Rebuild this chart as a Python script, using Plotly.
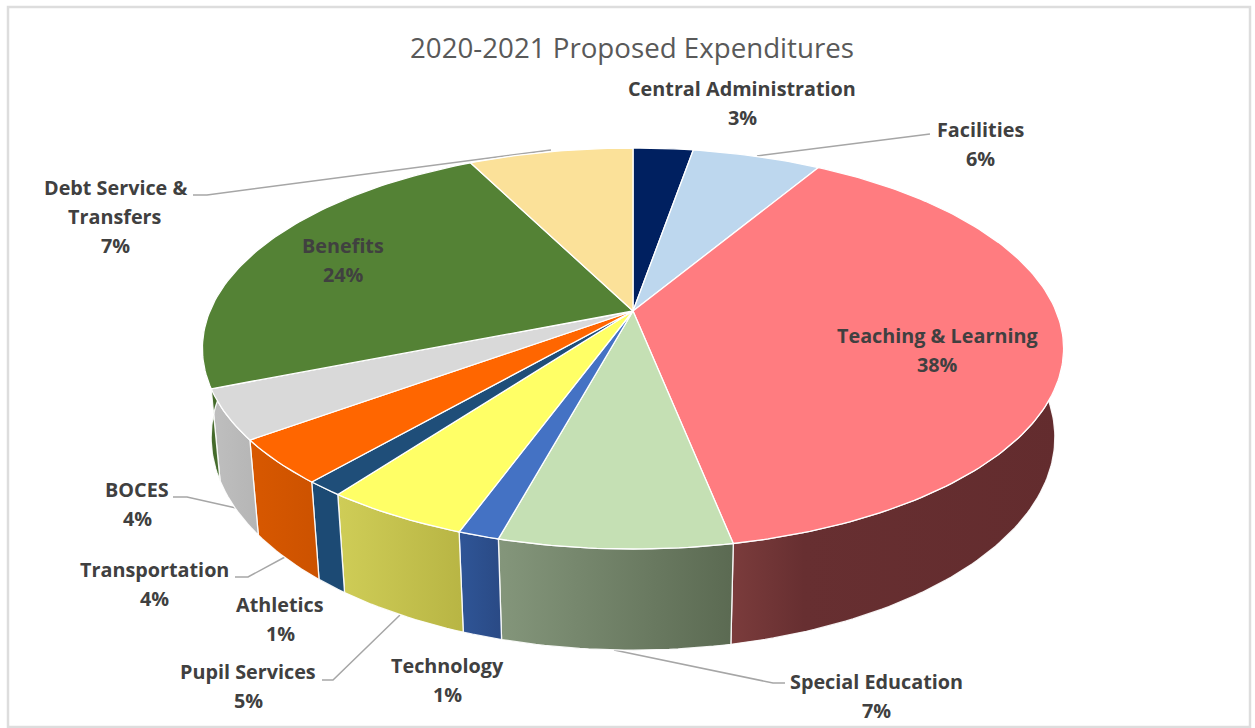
import numpy as np
import plotly.graph_objects as go

# ---- data -----
categories = ["Central Administration", "Facilities", "Teaching & Learning", "Special Education",
              "Technology", "Pupil Services", "Athletics", "Transportation", "BOCES", "Benefits",
              "Debt Service & Transfers"]
shares = [2.7, 5.8, 38.4, 7.3, 1.3, 4.6, 1.2, 3.6, 4.0, 23.7, 7.4]
top_colors = ["#002060", "#BDD7EE", "#FF7C80", "#C5E0B4", "#4472C4", "#FFFF66", "#1F4E79", "#FF6600",
              "#D9D9D9", "#548235", "#FBE199"]
wall_scales = [None, None,
               [[0, "#7B3C3C"], [0.22, "#672F31"], [1, "#632C2E"]],
               [[0, "#84967B"], [1, "#5B6A52"]],
               [[0, "#2F5597"], [1, "#2A4A85"]],
               [[0, "#CFCD57"], [1, "#B8B544"]],
               [[0, "#1C4A74"], [1, "#1C4A74"]],
               [[0, "#D85800"], [1, "#CC5200"]],
               [[0, "#BFBFBF"], [1, "#B5B5B5"]],
               [[0, "#446A2B"], [1, "#446A2B"]],
               None]
title_text = "2020-2021 Proposed Expenditures"
label_lines = [["Central Administration", "3%"], ["Facilities", "6%"], ["Teaching & Learning", "38%"],
               ["Special Education", "7%"], ["Technology", "1%"], ["Pupil Services", "5%"],
               ["Athletics", "1%"], ["Transportation", "4%"], ["BOCES", "4%"], ["Benefits", "24%"],
               ["Debt Service &", "Transfers", "7%"]]
label_anchor = [(742, 88), (980, 129), (937, 335), (876, 681), (447, 665), (248, 671), (280, 604),
                (154, 569), (137, 489), (343, 245), (115, 187)]
leaders = [None,
           [(757, 156), (930, 134)],
           None,
           [(614, 650), (773, 683), (785, 683)],
           None,
           [(400, 615), (333, 680), (322, 680)],
           None,
           [(285, 557), (248, 577), (235, 577)],
           [(236, 508), (187, 497), (173, 497)],
           None,
           [(551, 150), (207, 195), (193, 195)]]

# ---- projection of the pie disc onto the page -----
CX, CY, A, B, K, D, M = 633.0, 311.0, 423.0, 193.5, 0.187, 89.0, 0.02


def project(theta_deg, r=1.0, low=False):
    t = np.radians(theta_deg)
    x, y = r * np.sin(t), r * np.cos(t)
    w = 1 + K * y + (M if low else 0)
    return CX + A * x / w, CY + (-B * y + (D if low else 0)) / w


total = sum(shares)
edges = np.concatenate([[0], np.cumsum(shares)]) * 360.0 / total

fig = go.Figure()

# leader lines
for pts in leaders:
    if pts:
        fig.add_trace(go.Scatter(x=[p[0] for p in pts], y=[p[1] for p in pts], mode="lines",
                                 line=dict(color="#A6A6A6", width=1.5), hoverinfo="skip"))

# side walls (visible front arc only)
WALL_FROM, WALL_TO = 84.0, 276.0
for i, cs in enumerate(wall_scales):
    a0, a1 = max(edges[i], WALL_FROM), min(edges[i + 1], WALL_TO)
    if cs is None or a1 <= a0:
        continue
    th = np.linspace(a0, a1, max(int(a1 - a0), 2) + 1)
    xt, yt = project(th)
    xb, yb = project(th, low=True)
    xs = np.concatenate([xt, xb[::-1], xt[:1]])
    ys = np.concatenate([yt, yb[::-1], yt[:1]])
    fig.add_trace(go.Scatter(x=xs, y=ys, mode="lines", fill="toself",
                             fillgradient=dict(type="horizontal", colorscale=cs),
                             line=dict(color="rgba(255,255,255,0.9)", width=1.3),
                             hoverinfo="skip"))

# top faces
for i, name in enumerate(categories):
    th = np.linspace(edges[i], edges[i + 1], max(int(edges[i + 1] - edges[i]), 2) + 1)
    xa, ya = project(th)
    xs = np.concatenate([[CX], xa, [CX]])
    ys = np.concatenate([[CY], ya, [CY]])
    fig.add_trace(go.Scatter(x=xs, y=ys, mode="lines", fill="toself", fillcolor=top_colors[i],
                             line=dict(color="#FFFFFF", width=1.3), name=name,
                             hovertemplate=f"{name}: {shares[i]}%<extra></extra>"))

# labels
LINE_STEP = 29
annotations = []
for lines, (lx, ly) in zip(label_lines, label_anchor):
    for j, txt in enumerate(lines):
        annotations.append(dict(x=lx, y=ly + j * LINE_STEP, xref="x", yref="y", text=f"<b>{txt}</b>",
                                showarrow=False, xanchor="center", yanchor="middle",
                                font=dict(family="Open Sans", size=19.8, color="#404040")))

fig.update_layout(
    width=1255, height=728, margin=dict(l=0, r=0, t=0, b=0), showlegend=False,
    paper_bgcolor="white", plot_bgcolor="white",
    xaxis=dict(range=[0, 1255], visible=False, fixedrange=True),
    yaxis=dict(range=[728, 0], visible=False, fixedrange=True),
    title=dict(text=title_text, x=632 / 1255, y=1 - 48 / 728, xanchor="center", yanchor="middle",
               font=dict(family="Open Sans", size=27.7, color="#595959")),
    annotations=annotations,
    shapes=[dict(type="rect", xref="x", yref="y", x0=8, y0=7, x1=1250, y1=727,
                 line=dict(color="#DDDDDD", width=2.5), layer="below")],
)

fig.write_html("out.html", post_script="document.body.style.margin='0';", config={"displayModeBar": False})
